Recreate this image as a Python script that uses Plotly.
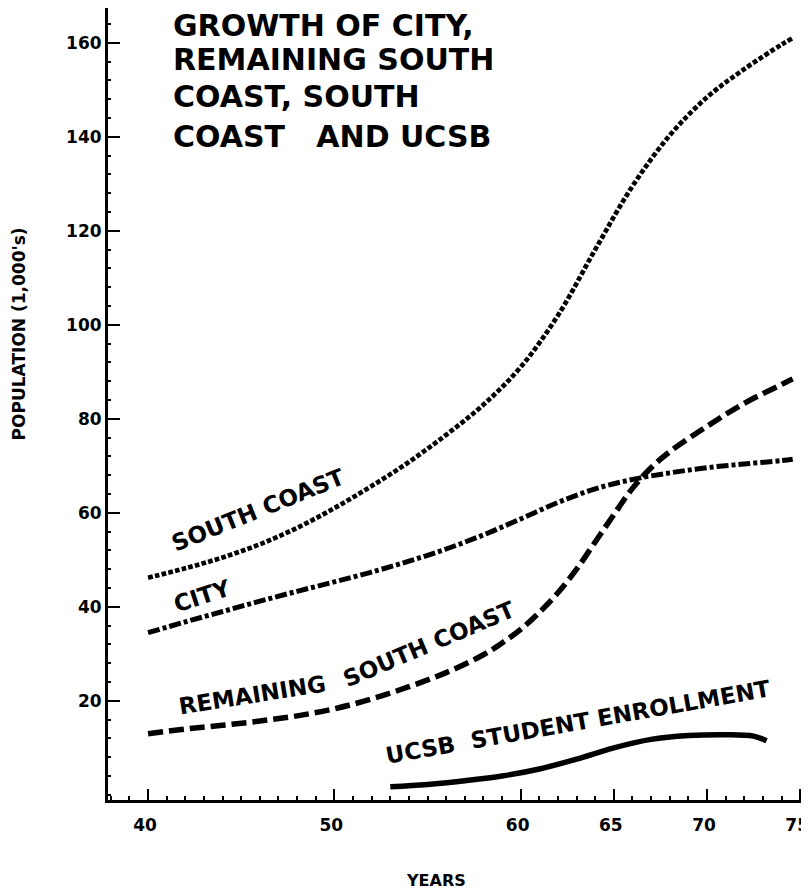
import plotly.graph_objects as go

# ---- data (population in thousands) ----
south_coast_years = [40, 42, 44, 46, 48, 50, 52, 54, 56, 58, 60, 62, 64, 66, 68, 70, 72, 74, 74.6]
south_coast_pop = [46.2, 48.2, 50.5, 53.3, 56.8, 61, 65.7, 70.8, 76.6, 83, 91, 102, 116, 129.5, 140.3, 148.4, 154.4, 159.6, 161]

city_years = [40, 42, 44, 46, 48, 50, 52, 54, 56, 58, 60, 62, 64, 66, 68, 70, 72, 74, 74.6]
city_pop = [34.5, 36.8, 39, 41.2, 43.3, 45.3, 47.4, 49.7, 52.3, 55.3, 58.7, 62.2, 65.1, 67.1, 68.5, 69.6, 70.4, 71.1, 71.4]

remaining_years = [40, 42, 44, 46, 48, 50, 52, 54, 56, 58, 59, 60, 61, 62, 63, 64, 65, 66, 67, 68, 70, 72, 74, 74.6]
remaining_pop = [13, 14, 14.8, 15.7, 16.8, 18.3, 20.4, 23, 26, 29.8, 32.3, 35.2, 38.8, 43, 48, 53.8, 59.6, 65.2, 69.6, 73, 78.4, 83.3, 87.3, 88.5]

ucsb_years = [53, 55, 57, 59, 61, 63, 65, 67, 69, 71, 72.5, 73.2]
ucsb_pop = [1.7, 2.2, 3, 4, 5.5, 7.6, 10, 11.8, 12.6, 12.8, 12.5, 11.5]

x_tick_vals = [40, 50, 60, 65, 70, 75]
x_tick_text = ["40", "50", "60", "65", "70", "75"]
y_tick_vals = [20, 40, 60, 80, 100, 120, 140, 160]
y_tick_text = ["20", "40", "60", "80", "100", "120", "140", "160"]

title_lines = ["GROWTH OF CITY,", "REMAINING SOUTH", "COAST, SOUTH", "COAST   AND UCSB"]

FONT = "DejaVu Sans"

# page body has an 8px default margin; figure sized to fit the 809x890 window
OFF = 8
PLOT_L, PLOT_R, PLOT_T, PLOT_B = 108, 805, 8, 800
W, H = 809 - OFF, 890 - OFF


def px_x(p):
    return (p - PLOT_L) / (PLOT_R - PLOT_L)


def px_y(p):
    return (PLOT_B - p) / (PLOT_B - PLOT_T)


fig = go.Figure()

fig.add_trace(go.Scatter(x=south_coast_years, y=south_coast_pop, mode="lines",
                         line=dict(color="black", width=4.7, dash="4.7px,2.2px", shape="spline", smoothing=1.0)))
fig.add_trace(go.Scatter(x=city_years, y=city_pop, mode="lines",
                         line=dict(color="black", width=5, dash="12px,3px,4px,3px", shape="spline", smoothing=1.0)))
fig.add_trace(go.Scatter(x=remaining_years, y=remaining_pop, mode="lines",
                         line=dict(color="black", width=5.5, dash="15px,6px", shape="spline", smoothing=1.0)))
fig.add_trace(go.Scatter(x=ucsb_years, y=ucsb_pop, mode="lines",
                         line=dict(color="black", width=5.5, shape="spline", smoothing=1.0)))

annotations = []
title_y_px = [25, 60, 97, 137]
for txt, ypx in zip(title_lines, title_y_px):
    annotations.append(dict(text=txt, xref="paper", yref="paper",
                            x=px_x(171), y=px_y(ypx),
                            xanchor="left", yanchor="middle", showarrow=False,
                            font=dict(family=FONT, size=30, color="black", weight="bold")))

label_font = dict(family=FONT, size=23, color="black", weight="bold")
labels = [
    ("SOUTH COAST", 45.9, 60.7, -22),
    ("CITY", 42.9, 42.3, -18),
    ("REMAINING", 45.6, 21.3, -9),
    ("SOUTH COAST", 55.1, 32.1, -23),
    ("UCSB  STUDENT ENROLLMENT", 63.1, 15.5, -10),
]
for txt, xv, yv, ang in labels:
    annotations.append(dict(text=txt, xref="x", yref="y", x=xv, y=yv,
                            xanchor="center", yanchor="middle", showarrow=False,
                            textangle=ang, font=label_font))

annotations.append(dict(text="POPULATION (1,000's)", xref="paper", yref="paper",
                        x=px_x(19), y=px_y(334), textangle=-90,
                        xanchor="center", yanchor="middle", showarrow=False,
                        font=dict(family=FONT, size=17, color="black", weight="bold")))
annotations.append(dict(text="YEARS", xref="paper", yref="paper",
                        x=px_x(437), y=px_y(880),
                        xanchor="center", yanchor="middle", showarrow=False,
                        font=dict(family=FONT, size=16, color="black", weight="bold")))

fig.update_layout(
    width=W, height=H,
    margin=dict(l=PLOT_L - OFF, r=W - (PLOT_R - OFF), t=PLOT_T - OFF, b=H - (PLOT_B - OFF)),
    paper_bgcolor="white", plot_bgcolor="white",
    showlegend=False,
    annotations=annotations,
    xaxis=dict(range=[37.85, 75.1], tickmode="array", tickvals=x_tick_vals, ticktext=x_tick_text,
               ticks="inside", ticklen=11, tickwidth=2, tickcolor="black",
               showline=True, linewidth=3, linecolor="black",
               showgrid=False, zeroline=False, ticklabelstandoff=8, ticklabelshift=-3,
               ticklabeloverflow="allow",
               tickfont=dict(family=FONT, size=17, color="black", weight="bold"),
               minor=dict(tickmode="linear", tick0=38, dtick=1, ticks="inside",
                          ticklen=4, tickwidth=1.5, tickcolor="black", showgrid=False)),
    yaxis=dict(range=[-1.1, 167.4], tickmode="array", tickvals=y_tick_vals, ticktext=y_tick_text,
               ticks="inside", ticklen=12, tickwidth=2, tickcolor="black",
               showline=True, linewidth=3, linecolor="black",
               showgrid=False, zeroline=False, ticklabelstandoff=0,
               tickfont=dict(family=FONT, size=17, color="black", weight="bold"),
               minor=dict(tickmode="linear", tick0=0, dtick=4, ticks="inside",
                          ticklen=3, tickwidth=1.5, tickcolor="black", showgrid=False)),
)

fig.write_html("out.html")
